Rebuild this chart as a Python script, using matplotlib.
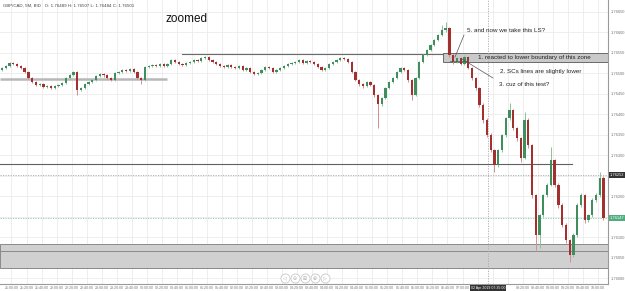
import matplotlib
matplotlib.use("Agg")
import matplotlib.pyplot as plt
from matplotlib.patches import Rectangle

header_text = "GBP/CAD, 5M, BID   O: 1.76489 H: 1.76507 L: 1.76484 C: 1.76501"

opens = [1.76508,1.76513,1.76518,1.76525,1.76523,1.76518,1.76513,1.76503,1.76489,1.76479,
         1.76472,1.76474,1.76467,1.76469,1.76464,1.76469,1.76472,1.76476,1.76489,1.76496,
         1.76503,1.76459,1.76464,1.76474,1.76479,1.76484,1.76493,1.76498,1.76496,1.76489,
         1.76484,1.76501,1.76503,1.76508,1.76506,1.76511,1.76503,1.76489,1.76484,1.76515,
         1.76518,1.76520,1.76518,1.76523,1.76518,1.76523,1.76533,1.76528,1.76523,1.76520,
         1.76525,1.76528,1.76533,1.76530,1.76537,1.76540,1.76533,1.76528,1.76523,1.76518,
         1.76515,1.76520,1.76515,1.76513,1.76518,1.76508,1.76513,1.76503,1.76498,1.76501,
         1.76508,1.76515,1.76513,1.76503,1.76508,1.76513,1.76518,1.76523,1.76525,1.76528,
         1.76533,1.76525,1.76530,1.76528,1.76523,1.76515,1.76508,1.76513,1.76523,1.76528,
         1.76533,1.76537,1.76535,1.76528,1.76503,1.76484,1.76474,1.76469,1.76479,1.76472,
         1.76447,1.76425,1.76440,1.76464,1.76479,1.76489,1.76503,1.76513,1.76508,1.76484,
         1.76447,1.76489,1.76528,1.76545,1.76557,1.76569,1.76581,1.76594,1.76606,1.76611,
         1.76545,1.76528,1.76537,1.76523,1.76540,1.76513,1.76489,1.76464,1.76423,1.76386,
         1.76350,1.76313,1.76276,1.76313,1.76350,1.76391,1.76411,1.76367,1.76342,1.76294,
         1.76386,1.76325,1.76203,1.76106,1.76154,1.76203,1.76228,1.76289,1.76228,1.76179,
         1.76130,1.76093,1.76057,1.76106,1.76179,1.76203,1.76142,1.76154,1.76191,1.76203,
         1.76245]

closes = [1.76513,1.76518,1.76525,1.76523,1.76518,1.76513,1.76503,1.76489,1.76479,1.76472,
          1.76474,1.76467,1.76469,1.76464,1.76469,1.76472,1.76476,1.76489,1.76496,1.76503,
          1.76459,1.76464,1.76474,1.76479,1.76484,1.76493,1.76498,1.76496,1.76489,1.76484,
          1.76501,1.76503,1.76508,1.76506,1.76511,1.76503,1.76489,1.76484,1.76515,1.76518,
          1.76520,1.76518,1.76523,1.76518,1.76523,1.76533,1.76528,1.76523,1.76520,1.76525,
          1.76528,1.76533,1.76530,1.76537,1.76540,1.76533,1.76528,1.76523,1.76518,1.76515,
          1.76520,1.76515,1.76513,1.76518,1.76508,1.76513,1.76503,1.76498,1.76501,1.76508,
          1.76515,1.76513,1.76503,1.76508,1.76513,1.76518,1.76523,1.76525,1.76528,1.76533,
          1.76525,1.76530,1.76528,1.76523,1.76515,1.76508,1.76513,1.76523,1.76528,1.76533,
          1.76537,1.76535,1.76528,1.76503,1.76484,1.76474,1.76469,1.76479,1.76472,1.76447,
          1.76425,1.76440,1.76464,1.76479,1.76489,1.76503,1.76513,1.76508,1.76484,1.76447,
          1.76489,1.76528,1.76545,1.76557,1.76569,1.76581,1.76594,1.76606,1.76611,1.76545,
          1.76528,1.76537,1.76523,1.76540,1.76513,1.76489,1.76464,1.76423,1.76386,1.76350,
          1.76313,1.76276,1.76313,1.76350,1.76391,1.76411,1.76367,1.76342,1.76294,1.76386,
          1.76325,1.76203,1.76106,1.76154,1.76203,1.76228,1.76289,1.76228,1.76179,1.76130,
          1.76093,1.76057,1.76106,1.76179,1.76203,1.76142,1.76154,1.76191,1.76203,1.76245,
          1.76147]

highs = [1.76516,1.76521,1.76527,1.76528,1.76525,1.76520,1.76515,1.76505,1.76491,1.76482,
         1.76477,1.76476,1.76472,1.76471,1.76472,1.76475,1.76478,1.76491,1.76499,1.76506,
         1.76505,1.76467,1.76476,1.76482,1.76487,1.76495,1.76501,1.76500,1.76498,1.76491,
         1.76503,1.76506,1.76510,1.76511,1.76513,1.76513,1.76505,1.76491,1.76517,1.76521,
         1.76523,1.76522,1.76525,1.76525,1.76526,1.76535,1.76535,1.76530,1.76525,1.76527,
         1.76531,1.76535,1.76536,1.76540,1.76543,1.76542,1.76535,1.76530,1.76525,1.76521,
         1.76522,1.76522,1.76518,1.76521,1.76520,1.76515,1.76515,1.76505,1.76503,1.76510,
         1.76518,1.76518,1.76515,1.76511,1.76515,1.76521,1.76525,1.76528,1.76531,1.76536,
         1.76535,1.76532,1.76533,1.76530,1.76525,1.76517,1.76515,1.76525,1.76531,1.76535,
         1.76540,1.76541,1.76537,1.76530,1.76506,1.76486,1.76477,1.76481,1.76481,1.76474,
         1.76450,1.76443,1.76466,1.76481,1.76491,1.76506,1.76516,1.76515,1.76510,1.76486,
         1.76491,1.76530,1.76547,1.76560,1.76572,1.76584,1.76597,1.76618,1.76625,1.76613,
         1.76548,1.76540,1.76540,1.76545,1.76542,1.76515,1.76491,1.76466,1.76427,1.76390,
         1.76355,1.76316,1.76316,1.76353,1.76394,1.76428,1.76414,1.76370,1.76345,1.76406,
         1.76390,1.76328,1.76206,1.76158,1.76206,1.76232,1.76320,1.76292,1.76232,1.76183,
         1.76134,1.76097,1.76110,1.76183,1.76208,1.76206,1.76158,1.76195,1.76208,1.76259,
         1.76250]

lows = [1.76506,1.76511,1.76516,1.76520,1.76515,1.76510,1.76500,1.76486,1.76476,1.76469,
        1.76469,1.76464,1.76465,1.76461,1.76462,1.76467,1.76470,1.76474,1.76487,1.76494,
        1.76447,1.76456,1.76462,1.76471,1.76477,1.76482,1.76491,1.76492,1.76486,1.76481,
        1.76482,1.76498,1.76500,1.76503,1.76503,1.76500,1.76486,1.76474,1.76482,1.76512,
        1.76515,1.76515,1.76516,1.76515,1.76516,1.76521,1.76525,1.76520,1.76517,1.76518,
        1.76523,1.76526,1.76527,1.76528,1.76535,1.76530,1.76525,1.76520,1.76515,1.76512,
        1.76513,1.76512,1.76510,1.76511,1.76505,1.76506,1.76500,1.76495,1.76495,1.76499,
        1.76506,1.76510,1.76500,1.76501,1.76506,1.76511,1.76516,1.76520,1.76523,1.76526,
        1.76522,1.76523,1.76525,1.76520,1.76512,1.76505,1.76506,1.76511,1.76521,1.76526,
        1.76531,1.76532,1.76525,1.76500,1.76481,1.76470,1.76465,1.76467,1.76468,1.76443,
        1.76367,1.76420,1.76437,1.76461,1.76476,1.76487,1.76501,1.76505,1.76480,1.76435,
        1.76445,1.76486,1.76525,1.76542,1.76554,1.76566,1.76578,1.76590,1.76600,1.76540,
        1.76522,1.76525,1.76520,1.76520,1.76510,1.76485,1.76460,1.76418,1.76380,1.76345,
        1.76308,1.76259,1.76272,1.76308,1.76345,1.76386,1.76362,1.76336,1.76284,1.76290,
        1.76318,1.76196,1.76069,1.76074,1.76150,1.76198,1.76224,1.76222,1.76172,1.76124,
        1.76086,1.76040,1.76052,1.76100,1.76174,1.76136,1.76137,1.76150,1.76186,1.76198,
        1.76142]

time_labels = ["21:00:00", "21:20:00", "21:40:00", "22:00:00", "22:20:00", "22:40:00",
               "23:00:00", "23:20:00", "23:40:00", "00:00:00", "00:20:00", "00:40:00",
               "01:00:00", "01:20:00", "01:40:00", "02:00:00", "02:20:00", "02:40:00",
               "03:00:00", "03:20:00", "03:40:00", "04:00:00", "04:20:00", "04:40:00",
               "05:00:00", "05:20:00", "05:40:00", "06:00:00", "06:20:00", "06:40:00",
               "07:00:00", "07:20:00", "07:40:00", "08:00:00", "08:20:00", "08:40:00",
               "09:00:00", "09:20:00", "09:40:00", "10:00:00"]

price_ticks = [1.76000, 1.76050, 1.76100, 1.76150, 1.76200, 1.76250, 1.76300,
               1.76350, 1.76400, 1.76450, 1.76500, 1.76550, 1.76600, 1.76650]

left_support = 1.76486
upper_line = 1.76547
upper_zone = (1.76528, 1.76550)
mid_line = 1.76279
lower_zone = (1.76025, 1.76067, 1.76084)
crosshair_price = 1.76252
crosshair_index = 129.3
crosshair_time_label = "02 Apr 2019 07:35:00"

notes = ["5. and now we take this LS?",
         "1. reacted to lower boundary of this zone",
         "2. SCs lines are slightly lower",
         "3. cuz of this test?"]

# ---------------------------------------------------------------- layout
W, H = 625, 291
PW, PH = 608, 284
fig = plt.figure(figsize=(W / 100, H / 100), dpi=100)
fig.patch.set_facecolor("white")
ax = fig.add_axes([0, (H - PH) / H, PW / W, PH / H])
ax.set_facecolor("white")

n = len(closes)
x_lo, x_hi = -0.55, n + 0.2
y_lo, y_hi = 1.75986, 1.76679
ax.set_xlim(x_lo, x_hi)
ax.set_ylim(y_lo, y_hi)


def P(xp, yp):
    """pixel position inside plot -> axes fraction"""
    return xp / PW, 1 - yp / PH


FONT = ["Liberation Sans", "DejaVu Sans"]

# ticks / grid (labels hidden where the reference's badges cover them)
xt = [2.5 + 4 * k for k in range(len(time_labels))]
ax.set_xticks(xt)
ax.set_xticklabels([("" if abs(p - crosshair_index) < 5.5 else t)
                    for p, t in zip(xt, time_labels)])
ax.set_yticks(price_ticks)
ax.set_yticklabels([("" if min(abs(v - crosshair_price), abs(v - closes[-1])) < 0.00012
                     else f"{v:.5f}") for v in price_ticks])
ax.yaxis.tick_right()
ax.grid(True, color="#ebebeb", lw=0.6)
ax.set_axisbelow(True)
ax.tick_params(axis="x", labelsize=2.6, colors="#777", length=0, pad=1.2)
ax.tick_params(axis="y", labelsize=2.9, colors="#777", length=0, pad=1.6)
for lab in ax.get_xticklabels() + ax.get_yticklabels():
    lab.set_family(FONT)
for s in ("left", "top"):
    ax.spines[s].set_visible(False)
for s in ("right", "bottom"):
    ax.spines[s].set_color("#9a9a9a")
    ax.spines[s].set_linewidth(0.8)

# lower zone
ax.add_patch(Rectangle((x_lo, lower_zone[0]), x_hi - x_lo, lower_zone[2] - lower_zone[0],
                       facecolor="#d0d0d0", edgecolor="#8a8a8a", lw=0.7, zorder=1))
ax.axhline(lower_zone[1], color="#8a8a8a", lw=0.7, zorder=1.1)

# upper zone box
zx0 = 443 / PW * (x_hi - x_lo) + x_lo
ax.add_patch(Rectangle((zx0, upper_zone[0]), x_hi - zx0, upper_zone[1] - upper_zone[0],
                       facecolor="#c9c9c9", edgecolor="#6a6a6a", lw=0.7, zorder=1))

# horizontal level lines
ax.plot([x_lo, 43.9], [left_support, left_support], color="#b8b8b8", lw=1.8, zorder=1.5,
        solid_capstyle="butt")
ax.plot([47.9, zx0], [upper_line, upper_line], color="#6a6a6a", lw=0.8, zorder=1.5)
ax.plot([x_lo, 151.6], [mid_line, mid_line], color="#606060", lw=0.8, zorder=1.5)

# crosshair & current price guides
ax.axvline(crosshair_index, color="#aaaaaa", lw=0.6, ls=(0, (1.5, 1.5)), zorder=1.2)
ax.axhline(crosshair_price, color="#aaaaaa", lw=0.6, ls=(0, (1.5, 1.5)), zorder=1.2)
ax.axhline(closes[-1], color="#8cc9a4", lw=0.6, ls=(0, (1.5, 1.5)), zorder=1.2)

# candles
idx = list(range(n))
up_body, dn_body = "#3f8f5e", "#a3302e"
up_wick, dn_wick = "#8fc0a0", "#cf8f8f"
body_c, wick_c, bottoms, heights = [], [], [], []
for o, c in zip(opens, closes):
    up = c >= o
    body_c.append(up_body if up else dn_body)
    wick_c.append(up_wick if up else dn_wick)
    bottoms.append(min(o, c))
    heights.append(max(abs(c - o), 0.000015))
ax.vlines(idx, lows, highs, colors=wick_c, lw=0.7, zorder=3)
ax.bar(idx, heights, bottom=bottoms, width=0.6, color=body_c, lw=0, zorder=4)

# texts
ax.text(*P(3, 6), header_text, transform=ax.transAxes, fontsize=3.2, color="#444",
        va="center", ha="left", family=FONT)
ax.text(*P(165, 19), "zoomed", transform=ax.transAxes, fontsize=8.5, color="#111",
        va="center", ha="left", family=FONT)
note_pos = [(467, 31), (478, 58), (500, 71), (499, 85)]
for (px, py), t in zip(note_pos, notes):
    ax.text(*P(px, py), t, transform=ax.transAxes, fontsize=4.5, color="#222",
            va="center", ha="left", family=FONT, zorder=6)

# leader lines
for (a, b) in [((464, 35), (455, 57)), ((462, 59), (493, 78)), ((450, 61), (468, 61))]:
    ax.plot([P(*a)[0], P(*b)[0]], [P(*a)[1], P(*b)[1]], transform=ax.transAxes,
            color="#555", lw=0.5, zorder=6)

# right-side price badges
ax.text(1.003, crosshair_price, f"{crosshair_price:.5f}",
        transform=ax.get_yaxis_transform(), fontsize=2.9, color="white", va="center",
        ha="left", family=FONT, zorder=10, clip_on=False,
        bbox=dict(boxstyle="square,pad=0.3", fc="#333333", ec="none"))
ax.text(1.003, closes[-1], f"{closes[-1]:.5f}",
        transform=ax.get_yaxis_transform(), fontsize=2.9, color="white", va="center",
        ha="left", family=FONT, zorder=10, clip_on=False,
        bbox=dict(boxstyle="square,pad=0.3", fc="#4fae7c", ec="none"))

# bottom crosshair time badge
ax.text(crosshair_index, -0.007, crosshair_time_label, transform=ax.get_xaxis_transform(),
        fontsize=2.6, color="white", va="top", ha="center", family=FONT, zorder=10,
        clip_on=False, bbox=dict(boxstyle="square,pad=0.3", fc="#333333", ec="none"))

# navigation buttons
btn_x = [285, 295, 305, 315, 325]
btn_g = ["\u25c1", "\u2296", "\u229e", "\u2295", "\u25b7"]
for bx, g in zip(btn_x, btn_g):
    ax.plot(*P(bx, 278), "o", ms=6.5, mfc="white", mec="#c8c8c8", mew=0.6,
            transform=ax.transAxes, zorder=8, clip_on=False)
    ax.text(*P(bx, 278), g, transform=ax.transAxes, fontsize=3.5, color="#aaa",
            ha="center", va="center", zorder=9, family=["DejaVu Sans"])

fig.savefig("out.png", dpi=100, facecolor="white")
